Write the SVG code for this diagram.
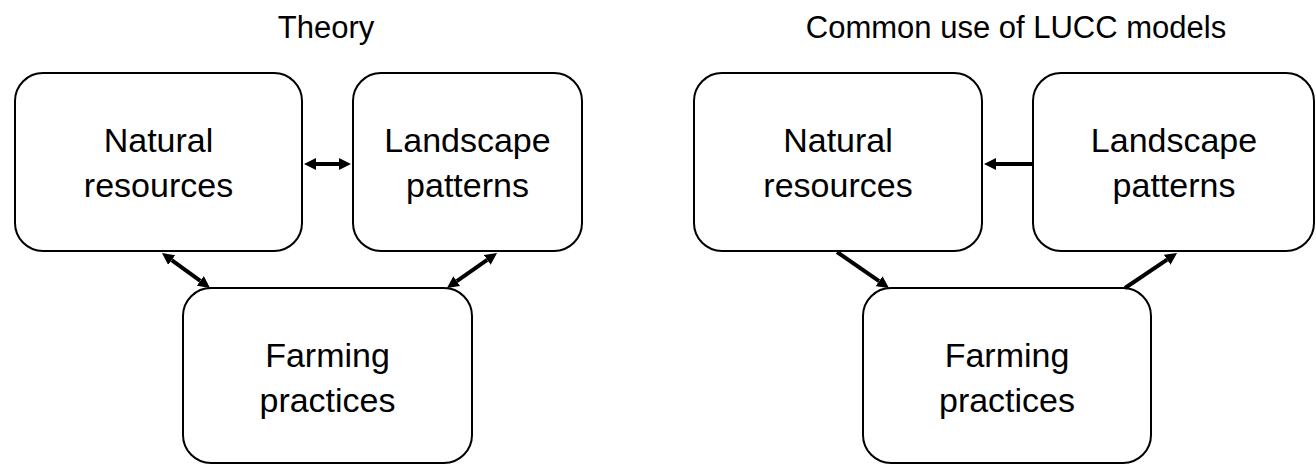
<svg xmlns="http://www.w3.org/2000/svg" width="1316" height="465" viewBox="0 0 1316 465">
<style>
.box{fill:#fff;stroke:#000;stroke-width:2}
.lbl{font-family:"Liberation Sans",Arial,sans-serif;font-size:34px;fill:#000;text-anchor:middle}
.ttl{font-family:"Liberation Sans",Arial,sans-serif;font-size:31px;fill:#000;text-anchor:middle}
.arr{stroke:#000;stroke-width:4;fill:none}
</style>
<defs>
<marker id="ah" markerUnits="userSpaceOnUse" markerWidth="12" markerHeight="12" refX="0" refY="6" orient="auto-start-reverse" viewBox="0 0 12 12">
<path d="M0,0 L12,6 L0,12 z" fill="#000"/>
</marker>
</defs>
<rect width="1316" height="465" fill="#fff"/>
<text class="ttl" x="326" y="38">Theory</text>
<text class="ttl" x="1016" y="38">Common use of LUCC models</text>

<g id="theory-natural">
<rect class="box" x="15" y="73" width="287" height="178" rx="28"/>
<text class="lbl" x="158.5" y="152">Natural</text>
<text class="lbl" x="158.5" y="197">resources</text>
</g>
<g id="theory-landscape">
<rect class="box" x="353" y="73" width="229" height="178" rx="28"/>
<text class="lbl" x="467.5" y="152">Landscape</text>
<text class="lbl" x="467.5" y="197">patterns</text>
</g>
<g id="theory-farming">
<rect class="box" x="183" y="288" width="289" height="175" rx="28"/>
<text class="lbl" x="327.5" y="367">Farming</text>
<text class="lbl" x="327.5" y="412">practices</text>
</g>

<g id="lucc-natural">
<rect class="box" x="694" y="73" width="288" height="178" rx="28"/>
<text class="lbl" x="838" y="152">Natural</text>
<text class="lbl" x="838" y="197">resources</text>
</g>
<g id="lucc-landscape">
<rect class="box" x="1033" y="73" width="281" height="178" rx="28"/>
<text class="lbl" x="1174" y="152">Landscape</text>
<text class="lbl" x="1174" y="197">patterns</text>
</g>
<g id="lucc-farming">
<rect class="box" x="863" y="288" width="288" height="175" rx="28"/>
<text class="lbl" x="1007" y="367">Farming</text>
<text class="lbl" x="1007" y="412">practices</text>
</g>

<g id="connectors">
<line class="arr" x1="316" y1="164" x2="339" y2="164" marker-start="url(#ah)" marker-end="url(#ah)"/>
<line class="arr" x1="171.7" y1="260.1" x2="200.3" y2="280.9" marker-start="url(#ah)" marker-end="url(#ah)"/>
<line class="arr" x1="487.2" y1="259.9" x2="456.8" y2="281.1" marker-start="url(#ah)" marker-end="url(#ah)"/>
<line class="arr" x1="1033" y1="164" x2="996" y2="164" marker-end="url(#ah)"/>
<line class="arr" x1="837" y1="252" x2="879.1" y2="281.2" marker-end="url(#ah)"/>
<line class="arr" x1="1125" y1="288" x2="1167.1" y2="259.7" marker-end="url(#ah)"/>
</g>
</svg>
